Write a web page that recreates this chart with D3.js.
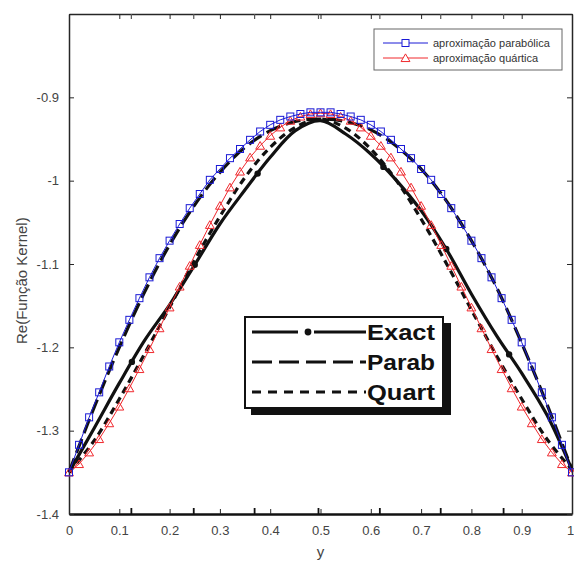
<!DOCTYPE html>
<html>
<head>
<meta charset="utf-8">
<title>Re(Função Kernel)</title>
<script src="https://d3js.org/d3.v7.min.js"></script>
<style>
html,body{margin:0;padding:0;background:#fff;}
svg{display:block;font-family:"Liberation Sans",Arial,sans-serif;}
</style>
</head>
<body>
<script>
// approximations, sampled every 0.02
var xFine=d3.range(0,51).map(function(i){return +(i*0.02).toFixed(2);});
var parabHalf=[-1.350,-1.317,-1.284,-1.254,-1.223,-1.194,-1.167,-1.141,-1.116,-1.093,-1.072,-1.052,-1.033,-1.016,-0.999,-0.986,-0.973,-0.962,-0.951,-0.941,-0.933,-0.927,-0.923,-0.920,-0.918,-0.918];
var quartHalf=[-1.350,-1.340,-1.326,-1.310,-1.291,-1.271,-1.249,-1.226,-1.202,-1.177,-1.152,-1.127,-1.102,-1.077,-1.053,-1.030,-1.008,-0.989,-0.972,-0.958,-0.946,-0.936,-0.928,-0.923,-0.920,-0.919];
// mirrored right half (curves are symmetric about y=0.5)
var parabVals=parabHalf.concat(parabHalf.slice(0,25).reverse());
var quartVals=quartHalf.concat(quartHalf.slice(0,25).reverse());

// black curves from the overlaid figure, sampled every 0.05
var xCoarse=d3.range(0,21).map(function(i){return +(i*0.05).toFixed(2);});
var exactVals=[-1.350,-1.297,-1.243,-1.192,-1.149,-1.101,-1.052,-1.011,-0.972,-0.940,-0.928,-0.944,-0.968,-0.999,-1.036,-1.082,-1.136,-1.186,-1.231,-1.281,-1.347];
var parabBlack=[-1.350,-1.272,-1.200,-1.134,-1.077,-1.029,-0.990,-0.960,-0.940,-0.929,-0.926,-0.929,-0.939,-0.958,-0.986,-1.024,-1.072,-1.128,-1.195,-1.268,-1.347];
var quartBlack=[-1.350,-1.312,-1.262,-1.208,-1.152,-1.095,-1.043,-0.996,-0.960,-0.936,-0.926,-0.937,-0.962,-0.999,-1.046,-1.099,-1.155,-1.210,-1.262,-1.310,-1.347];
var exactDots=[0.125,0.25,0.375,0.625,0.75,0.875];

var xTicks=[0,0.1,0.2,0.3,0.4,0.5,0.6,0.7,0.8,0.9,1];
var yTicks=[-1.4,-1.3,-1.2,-1.1,-1,-0.9];
var pasteTicks=[0.123,0.247,0.368,0.495,0.617,0.738,0.863];

var W=574,H=565;
var svg=d3.select("body").append("svg").attr("width",W).attr("height",H);

var x=d3.scaleLinear().domain([0,1]).range([69,572]);
var y=d3.scaleLinear().domain([-1.4,-0.8]).range([514,14]);

var axCol="#262626";
var plain=function(d){return String(d);};

// axes (MATLAB style, ticks inward, box on)
var gx=svg.append("g").attr("transform","translate(0,514)")
	.call(d3.axisBottom(x).tickValues(xTicks).tickSizeInner(-5).tickSizeOuter(0).tickPadding(12).tickFormat(plain));
var gxt=svg.append("g").attr("transform","translate(0,14)")
	.call(d3.axisTop(x).tickValues(xTicks).tickSizeInner(-5).tickSizeOuter(0).tickFormat(""));
var gy=svg.append("g").attr("transform","translate(69,0)")
	.call(d3.axisLeft(y).tickValues(yTicks).tickSizeInner(-5).tickSizeOuter(0).tickPadding(10).tickFormat(plain));
var gyr=svg.append("g").attr("transform","translate(572,0)")
	.call(d3.axisRight(y).tickValues(yTicks).tickSizeInner(-5).tickSizeOuter(0).tickFormat(""));
[gx,gxt,gy,gyr].forEach(function(g){
	g.select(".domain").attr("stroke",axCol).attr("stroke-width",1.5);
	g.selectAll(".tick line").attr("stroke",axCol).attr("stroke-width",1);
	g.selectAll(".tick text").attr("fill","#444").style("font-size","13px").style("font-family","'Liberation Sans',Arial,sans-serif");
});
gx.select(".domain").attr("stroke","#111").attr("stroke-width",2.5);
gx.selectAll(".tick").filter(function(d){return d===1;}).select("text").attr("dx",-2);

// ticks of the overlaid figure
svg.append("g").attr("transform","translate(0,514)")
	.call(d3.axisBottom(x).tickValues(pasteTicks).tickSizeInner(-6).tickSizeOuter(0).tickFormat(""))
	.call(function(g){g.select(".domain").remove();g.selectAll("line").attr("stroke","#111").attr("stroke-width",1.8);});
svg.append("g").attr("transform","translate(0,14)")
	.call(d3.axisTop(x).tickValues(pasteTicks).tickSizeInner(-5).tickSizeOuter(0).tickFormat(""))
	.call(function(g){g.select(".domain").remove();g.selectAll("line").attr("stroke","#555").attr("stroke-width",1.2);});

// axis labels
svg.append("text").attr("x",x(0.5)).attr("y",557).attr("text-anchor","middle")
	.attr("fill","#444").style("font-size","15px").text("y");
svg.append("text").attr("transform","translate(27,"+y(-1.12)+") rotate(-90)").attr("text-anchor","middle")
	.attr("fill","#444").style("font-size","15px").text("Re(Função Kernel)");

var line=d3.line().x(function(d){return x(d[0]);}).y(function(d){return y(d[1]);});
function pairs(xs,ys){return xs.map(function(v,i){return [v,ys[i]];});}

var plot=svg.append("g");

// black curves
plot.append("path").datum(pairs(xCoarse,quartBlack)).attr("d",line.curve(d3.curveCatmullRom))
	.attr("fill","none").attr("stroke","#111").attr("stroke-width",3.2).attr("stroke-dasharray","7,5");
plot.append("path").datum(pairs(xCoarse,parabBlack)).attr("d",line.curve(d3.curveCatmullRom))
	.attr("fill","none").attr("stroke","#111").attr("stroke-width",3.2).attr("stroke-dasharray","15,6");
plot.append("path").datum(pairs(xCoarse,exactVals)).attr("d",line.curve(d3.curveCatmullRom))
	.attr("fill","none").attr("stroke","#111").attr("stroke-width",3.2);
var exactInterp=d3.scaleLinear().domain(xCoarse).range(exactVals);
plot.selectAll("circle.ed").data(exactDots).enter().append("circle").attr("class","ed")
	.attr("cx",function(d){return x(d);}).attr("cy",function(d){return y(exactInterp(d));})
	.attr("r",3.2).attr("fill","#111");

line.curve(d3.curveLinear);

// red quartic
plot.append("path").datum(pairs(xFine,quartVals)).attr("d",line)
	.attr("fill","none").attr("stroke","#f0282d").attr("stroke-width",1);
var tri=d3.symbol().type(d3.symbolTriangle).size(34);
plot.selectAll("path.tri").data(pairs(xFine,quartVals)).enter().append("path").attr("class","tri")
	.attr("d",tri).attr("transform",function(d){return "translate("+x(d[0])+","+(y(d[1])+1)+")";})
	.attr("fill","none").attr("stroke","#f0282d").attr("stroke-width",1);

// blue parabolic
plot.append("path").datum(pairs(xFine,parabVals)).attr("d",line)
	.attr("fill","none").attr("stroke","#1a1ad6").attr("stroke-width",1);
plot.selectAll("rect.sq").data(pairs(xFine,parabVals)).enter().append("rect").attr("class","sq")
	.attr("x",function(d){return x(d[0])-3.5;}).attr("y",function(d){return y(d[1])-3.5;})
	.attr("width",7).attr("height",7)
	.attr("fill","none").attr("stroke","#1a1ad6").attr("stroke-width",1);

// top-right legend
var lg=svg.append("g");
lg.append("rect").attr("x",374).attr("y",29).attr("width",188).attr("height",41)
	.attr("fill","#fff").attr("stroke","#666").attr("stroke-width",1);
var lgItems=[
	{label:"aproximação parabólica",col:"#1a1ad6",mark:"sq"},
	{label:"aproximação quártica",col:"#f0282d",mark:"tri"}
];
lgItems.forEach(function(it,i){
	var yy=43+i*15;
	lg.append("line").attr("x1",383).attr("x2",428).attr("y1",yy).attr("y2",yy).attr("stroke",it.col).attr("stroke-width",1);
	if(it.mark==="sq"){
		lg.append("rect").attr("x",402).attr("y",yy-3.5).attr("width",7).attr("height",7).attr("fill","#fff").attr("stroke",it.col);
	}else{
		lg.append("path").attr("d",tri).attr("transform","translate(405.5,"+(yy+1)+")").attr("fill","#fff").attr("stroke",it.col);
	}
	lg.append("text").attr("x",433).attr("y",yy+4).attr("fill","#333").style("font-size","11px").text(it.label);
});

// legend of overlaid figure
var lb=svg.append("g");
lb.append("rect").attr("x",251).attr("y",323).attr("width",200).attr("height",92).attr("fill","#111");
lb.append("rect").attr("x",245).attr("y",317).attr("width",198).attr("height",91)
	.attr("fill","#fff").attr("stroke","#111").attr("stroke-width",2);
var lbItems=[
	{label:"Exact",dash:null,dot:true},
	{label:"Parab",dash:"20,7"},
	{label:"Quart",dash:"9,7"}
];
lbItems.forEach(function(it,i){
	var yy=332+i*30;
	var l=lb.append("line").attr("x1",252).attr("x2",366).attr("y1",yy).attr("y2",yy)
		.attr("stroke","#111").attr("stroke-width",3.2);
	if(it.dash)l.attr("stroke-dasharray",it.dash);
	if(it.dot){
		l.attr("stroke-dasharray","46,16,52");
		lb.append("circle").attr("cx",308).attr("cy",yy).attr("r",3.4).attr("fill","#111");
	}
	lb.append("text").attr("x",367).attr("y",yy+8).attr("fill","#111")
		.style("font-size","22px").style("font-weight","bold")
		.attr("textLength",68).attr("lengthAdjust","spacingAndGlyphs").text(it.label);
});
</script>
</body>
</html>
